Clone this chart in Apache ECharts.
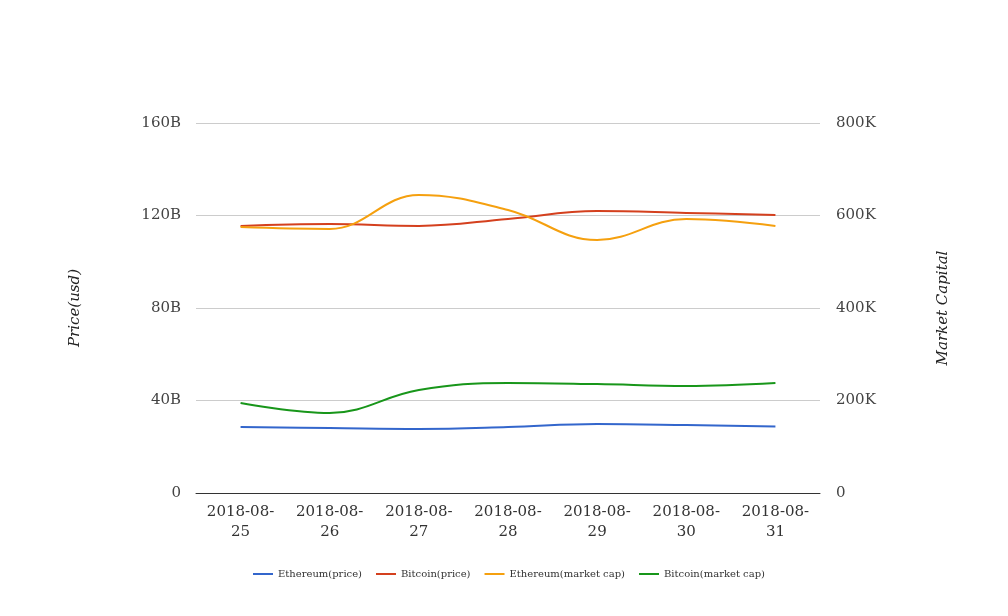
<!DOCTYPE html>
<html><head><meta charset="utf-8">
<script src="https://cdn.jsdelivr.net/npm/echarts@6/dist/echarts.min.js"></script>
<style>html,body{margin:0;padding:0;background:#fff}#c{width:1008px;height:616px}</style>
</head><body><div id="c"></div>
<script>
const categories = ['2018-08-25','2018-08-26','2018-08-27','2018-08-28','2018-08-29','2018-08-30','2018-08-31'];
const ethPrice = [28.5, 28.1, 27.7, 28.5, 29.8, 29.4, 28.8];
const btcPrice = [115.5, 116.3, 115.5, 118.5, 121.9, 121.1, 120.2];
const ethCap = [115.0, 114.2, 128.9, 122.4, 109.4, 118.5, 115.5];
const btcCap = [38.9, 34.6, 44.5, 47.6, 47.1, 46.3, 47.6];
const leftTicks = [0, 40, 80, 120, 160];
const rightTicks = [0, 200000, 400000, 600000, 800000];

const FONT = 'DejaVu Serif';
const chart = echarts.init(document.getElementById('c'));
const mk = (name, data, color) => ({
  name, type: 'line', data, smooth: 0.4, showSymbol: false, symbol: 'none',
  yAxisIndex: 0, lineStyle: {width: 2, color}, itemStyle: {color}
});
chart.setOption({
  animation: false,
  textStyle: {fontFamily: FONT},
  grid: {left: 196, right: 188, top: 123, bottom: 123},
  legend: {
    bottom: 32, left: 248, itemWidth: 20, itemHeight: 10, itemGap: 14,
    icon: 'path://M0,4 L20,4 L20,6 L0,6 Z',
    textStyle: {fontFamily: FONT, fontSize: 10, color: '#333'}
  },
  xAxis: {
    type: 'category', data: categories, boundaryGap: true,
    axisLine: {lineStyle: {color: '#333', width: 1}},
    axisTick: {show: false},
    axisLabel: {fontFamily: FONT, fontSize: 15, color: '#333', margin: 9, lineHeight: 20,
      interval: 0,
      formatter: v => v.slice(0, 8) + '\n' + v.slice(8)}
  },
  yAxis: [{
    type: 'value', min: leftTicks[0], max: leftTicks[leftTicks.length-1], interval: 40,
    name: 'Price(usd)', nameLocation: 'middle', nameGap: 113,
    nameTextStyle: {fontFamily: FONT, fontSize: 15, fontStyle: 'italic', color: '#222'},
    axisLine: {show: false}, axisTick: {show: false},
    axisLabel: {fontFamily: FONT, fontSize: 15, color: '#444', margin: 15,
      formatter: v => v === 0 ? '0' : v + 'B'},
    splitLine: {lineStyle: {color: '#ccc'}}
  }, {
    type: 'value', min: rightTicks[0], max: rightTicks[rightTicks.length-1], interval: 200000,
    name: 'Market Capital', nameLocation: 'middle', nameGap: 116,
    nameTextStyle: {fontFamily: FONT, fontSize: 15, fontStyle: 'italic', color: '#222'},
    axisLine: {show: false}, axisTick: {show: false},
    axisLabel: {fontFamily: FONT, fontSize: 15, color: '#444', margin: 16,
      formatter: v => v === 0 ? '0' : (v / 1000) + 'K'},
    splitLine: {show: false}
  }],
  series: [
    mk('Ethereum(price)', ethPrice, '#3366CC'),
    mk('Bitcoin(price)', btcPrice, '#D4401E'),
    mk('Ethereum(market cap)', ethCap, '#F5A00F'),
    mk('Bitcoin(market cap)', btcCap, '#18961A')
  ]
});
</script></body></html>
